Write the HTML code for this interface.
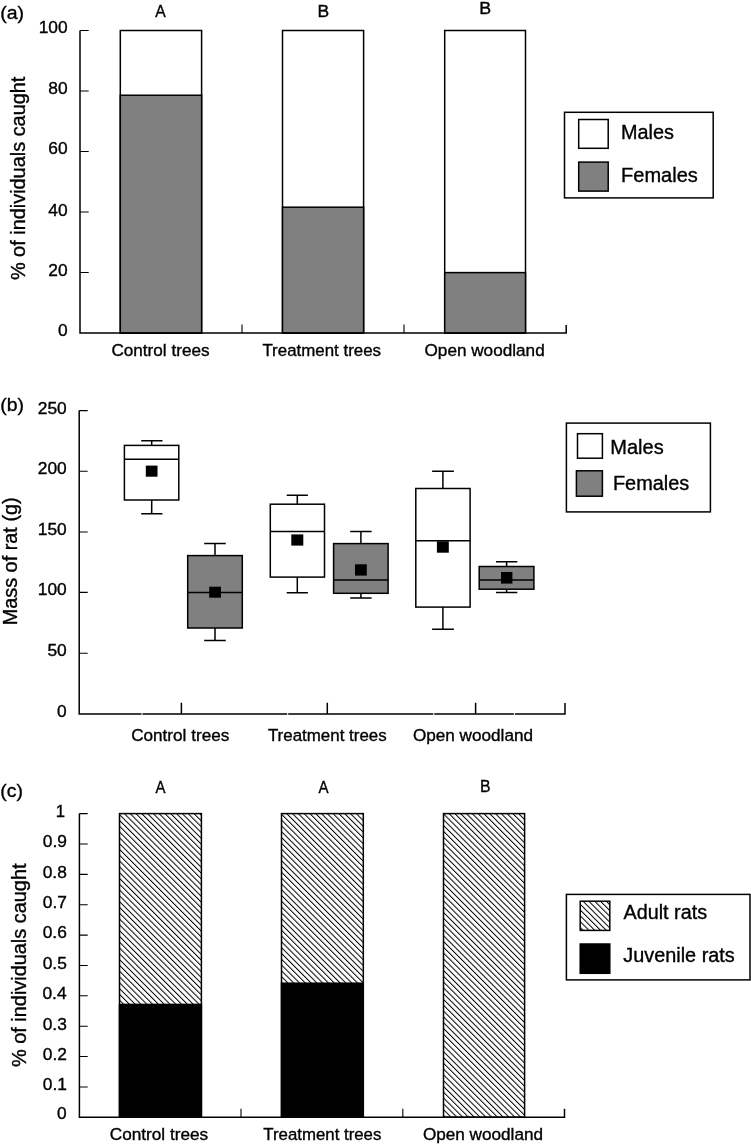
<!DOCTYPE html>
<html><head><meta charset="utf-8">
<style>
html,body{margin:0;padding:0;background:#fff;}
body{width:751px;height:1144px;overflow:hidden;}
svg{display:block;filter:grayscale(1);}
text{font-family:"Liberation Sans",sans-serif;fill:#000;stroke:#000;stroke-width:0.35px;}
</style></head><body>
<svg width="751" height="1144" viewBox="0 0 751 1144">
<defs>
<pattern id="hatch" patternUnits="userSpaceOnUse" width="4.1" height="4.1" patternTransform="rotate(-45)">
<rect width="4.1" height="4.1" fill="#fff"/>
<rect x="0" y="0" width="1.0" height="4.1" fill="#000"/>
</pattern>
</defs>
<rect width="751" height="1144" fill="#fff"/>
<rect x="120.30" y="30.50" width="81.30" height="302.50" fill="#fff" stroke="#000" stroke-width="1.5"/>
<rect x="120.30" y="95.25" width="81.30" height="237.75" fill="#808080" stroke="#000" stroke-width="1.5"/>
<rect x="282.50" y="30.50" width="81.10" height="302.50" fill="#fff" stroke="#000" stroke-width="1.5"/>
<rect x="282.50" y="207.20" width="81.10" height="125.80" fill="#808080" stroke="#000" stroke-width="1.5"/>
<rect x="444.70" y="30.50" width="80.80" height="302.50" fill="#fff" stroke="#000" stroke-width="1.5"/>
<rect x="444.70" y="272.60" width="80.80" height="60.40" fill="#808080" stroke="#000" stroke-width="1.5"/>
<path d="M80 30.5V333H566.2V325" fill="none" stroke="#000" stroke-width="1.5"/>
<path d="M80 30.5H88.7M80 91H88.7M80 151.5H88.7M80 212H88.7M80 272.5H88.7" stroke="#000" stroke-width="1.1"/>
<path d="M242 333V324.5M404 333V324.5" stroke="#000" stroke-width="1.1"/>
<rect x="564.50" y="112.30" width="148.70" height="85.60" fill="#fff" stroke="#000" stroke-width="1.5"/>
<rect x="578.70" y="119.50" width="29.50" height="28.80" fill="#fff" stroke="#000" stroke-width="1.5"/>
<rect x="578.70" y="162.10" width="29.50" height="29.00" fill="#808080" stroke="#000" stroke-width="1.5"/>
<path d="M79.2 410.6V714H565V703" fill="none" stroke="#000" stroke-width="1.5"/>
<path d="M79.2 410.6H87.7M79.2 471.2H87.7M79.2 532H87.7M79.2 592.4H87.7M79.2 653.2H87.7" stroke="#000" stroke-width="1.1"/>
<path d="M181.4 714V702.7M327.3 714V702.7M475.6 714V702.7" stroke="#000" stroke-width="1.5"/>
<path d="M142 712.6V715.4M287.7 712.6V715.4M433.8 712.6V715.4M514.4 712.6V715.4" stroke="#fff" stroke-width="1"/>
<path d="M151.7 440.8V445.4M141.2 440.8H162.5M151.7 500.0V513.7M141.2 513.7H162.5" stroke="#000" stroke-width="1.5" fill="none"/>
<rect x="124.40" y="445.40" width="54.40" height="54.60" fill="#fff" stroke="#000" stroke-width="1.5"/>
<path d="M124.4 459.2H178.8" stroke="#000" stroke-width="1.5"/>
<path d="M215.0 543.5V555.6M204.2 543.5H225.8M215.0 628.0V640.6M204.2 640.6H225.8" stroke="#000" stroke-width="1.5" fill="none"/>
<rect x="187.70" y="555.60" width="54.60" height="72.40" fill="#808080" stroke="#000" stroke-width="1.5"/>
<path d="M187.7 592.5H242.3" stroke="#000" stroke-width="1.5"/>
<path d="M297.3 495.3V504.2M286.7 495.3H307.9M297.3 577.1V592.8M286.7 592.8H307.9" stroke="#000" stroke-width="1.5" fill="none"/>
<rect x="270.30" y="504.20" width="54.20" height="72.90" fill="#fff" stroke="#000" stroke-width="1.5"/>
<path d="M270.3 531.5H324.5" stroke="#000" stroke-width="1.5"/>
<path d="M360.9 531.5V543.6M350.2 531.5H371.6M360.9 593.3V598.0M350.2 598.0H371.6" stroke="#000" stroke-width="1.5" fill="none"/>
<rect x="333.60" y="543.60" width="54.50" height="49.70" fill="#808080" stroke="#000" stroke-width="1.5"/>
<path d="M333.6 580.1H388.1" stroke="#000" stroke-width="1.5"/>
<path d="M442.9 471.2V488.5M432.1 471.2H453.9M442.9 607.1V629.3M432.1 629.3H453.9" stroke="#000" stroke-width="1.5" fill="none"/>
<rect x="415.80" y="488.50" width="54.30" height="118.60" fill="#fff" stroke="#000" stroke-width="1.5"/>
<path d="M415.8 540.7H470.1" stroke="#000" stroke-width="1.5"/>
<path d="M506.6 561.8V566.5M496.0 561.8H517.3M506.6 589.2V592.4M496.0 592.4H517.3" stroke="#000" stroke-width="1.5" fill="none"/>
<rect x="479.20" y="566.50" width="54.70" height="22.70" fill="#808080" stroke="#000" stroke-width="1.5"/>
<path d="M479.2 579.9H533.9" stroke="#000" stroke-width="1.5"/>
<rect x="145.80" y="465.60" width="11.70" height="11.10" fill="#000"/>
<rect x="209.20" y="586.70" width="11.80" height="11.00" fill="#000"/>
<rect x="291.30" y="534.40" width="12.00" height="11.20" fill="#000"/>
<rect x="355.00" y="564.30" width="11.80" height="11.30" fill="#000"/>
<rect x="436.90" y="541.30" width="11.90" height="11.40" fill="#000"/>
<rect x="501.00" y="572.00" width="11.40" height="11.60" fill="#000"/>
<rect x="566.40" y="423.10" width="144.00" height="88.80" fill="#fff" stroke="#000" stroke-width="1.5"/>
<rect x="577.50" y="433.70" width="24.90" height="24.50" fill="#fff" stroke="#000" stroke-width="1.5"/>
<rect x="576.40" y="470.80" width="26.00" height="25.40" fill="#808080" stroke="#000" stroke-width="1.5"/>
<rect x="119.50" y="813.60" width="81.90" height="303.60" fill="url(#hatch)" stroke="#000" stroke-width="1.5"/>
<rect x="119.50" y="1004.40" width="81.90" height="112.80" fill="#000" stroke="#000" stroke-width="1.5"/>
<rect x="281.50" y="813.60" width="81.80" height="303.60" fill="url(#hatch)" stroke="#000" stroke-width="1.5"/>
<rect x="281.50" y="983.20" width="81.80" height="134.00" fill="#000" stroke="#000" stroke-width="1.5"/>
<rect x="443.50" y="813.60" width="81.10" height="303.60" fill="url(#hatch)" stroke="#000" stroke-width="1.5"/>
<path d="M79.4 813.6V1117.2H564.5V1108.8" fill="none" stroke="#000" stroke-width="1.5"/>
<path d="M79.4 813.60H87.7M79.4 843.97H87.7M79.4 874.34H87.7M79.4 904.71H87.7M79.4 935.08H87.7M79.4 965.45H87.7M79.4 995.82H87.7M79.4 1026.19H87.7M79.4 1056.56H87.7M79.4 1086.93H87.7" stroke="#000" stroke-width="1.1"/>
<path d="M241 1117.2V1108.8M402.8 1117.2V1108.8" stroke="#000" stroke-width="1.1"/>
<rect x="566.40" y="894.40" width="183.60" height="85.50" fill="#fff" stroke="#000" stroke-width="1.5"/>
<rect x="580.20" y="901.20" width="29.60" height="29.20" fill="url(#hatch)" stroke="#000" stroke-width="1.5"/>
<rect x="580.20" y="944.00" width="29.60" height="29.30" fill="#000" stroke="#000" stroke-width="1.5"/>
<text transform="translate(0.29,19.30) scale(1.0366,1)" font-size="18.8">(a)</text>
<text transform="translate(38.70,32.90) scale(1.0400,1)" font-size="16.7">100</text>
<text transform="translate(48.36,94.30) scale(1.0400,1)" font-size="16.7">80</text>
<text transform="translate(48.36,154.30) scale(1.0400,1)" font-size="16.7">60</text>
<text transform="translate(48.36,215.80) scale(1.0400,1)" font-size="16.7">40</text>
<text transform="translate(48.36,276.00) scale(1.0400,1)" font-size="16.7">20</text>
<text transform="translate(58.02,335.80) scale(1.0400,1)" font-size="16.7">0</text>
<text transform="translate(25.40,280.11) rotate(-90) scale(1.0211,1)" font-size="19.5">% of individuals caught</text>
<text transform="translate(111.43,355.60) scale(1.0271,1)" font-size="16.7">Control trees</text>
<text transform="translate(262.42,355.60) scale(1.0120,1)" font-size="16.7">Treatment trees</text>
<text transform="translate(424.49,355.60) scale(1.0285,1)" font-size="16.7">Open woodland</text>
<text transform="translate(155.27,17.30) scale(0.9392,1)" font-size="16.7">A</text>
<text transform="translate(317.47,16.50) scale(1.0463,1)" font-size="16.7">B</text>
<text transform="translate(479.14,14.20) scale(1.0688,1)" font-size="16.7">B</text>
<text transform="translate(621.07,138.70) scale(1.0179,1)" font-size="19.5">Males</text>
<text transform="translate(621.06,181.60) scale(1.0267,1)" font-size="19.5">Females</text>
<text transform="translate(0.30,410.60) scale(1.0317,1)" font-size="18.8">(b)</text>
<text transform="translate(37.80,413.60) scale(1.0400,1)" font-size="16.7">250</text>
<text transform="translate(37.80,473.70) scale(1.0400,1)" font-size="16.7">200</text>
<text transform="translate(37.80,535.20) scale(1.0400,1)" font-size="16.7">150</text>
<text transform="translate(37.80,595.40) scale(1.0400,1)" font-size="16.7">100</text>
<text transform="translate(47.46,656.40) scale(1.0400,1)" font-size="16.7">50</text>
<text transform="translate(57.12,716.50) scale(1.0400,1)" font-size="16.7">0</text>
<text transform="translate(16.80,625.33) rotate(-90) scale(1.0188,1)" font-size="19.5">Mass of rat (g)</text>
<text transform="translate(131.13,741.40) scale(1.0282,1)" font-size="16.7">Control trees</text>
<text transform="translate(267.92,741.40) scale(1.0138,1)" font-size="16.7">Treatment trees</text>
<text transform="translate(412.89,741.40) scale(1.0276,1)" font-size="16.7">Open woodland</text>
<text transform="translate(610.26,454.10) scale(1.0279,1)" font-size="19.5">Males</text>
<text transform="translate(612.97,490.30) scale(1.0211,1)" font-size="19.5">Females</text>
<text transform="translate(0.30,796.50) scale(1.0312,1)" font-size="18.8">(c)</text>
<text x="55.83" y="817.00" font-size="16.7">1</text>
<text transform="translate(42.78,847.37) scale(1.0400,1)" font-size="16.7">0.9</text>
<text transform="translate(42.71,877.74) scale(1.0400,1)" font-size="16.7">0.8</text>
<text transform="translate(42.83,908.11) scale(1.0400,1)" font-size="16.7">0.7</text>
<text transform="translate(42.72,938.48) scale(1.0400,1)" font-size="16.7">0.6</text>
<text transform="translate(42.69,968.85) scale(1.0400,1)" font-size="16.7">0.5</text>
<text transform="translate(42.46,999.22) scale(1.0400,1)" font-size="16.7">0.4</text>
<text transform="translate(42.72,1029.59) scale(1.0400,1)" font-size="16.7">0.3</text>
<text transform="translate(42.83,1059.96) scale(1.0400,1)" font-size="16.7">0.2</text>
<text transform="translate(42.80,1090.33) scale(1.0400,1)" font-size="16.7">0.1</text>
<text transform="translate(57.02,1119.30) scale(1.0400,1)" font-size="16.7">0</text>
<text transform="translate(25.80,1067.01) rotate(-90) scale(1.0216,1)" font-size="19.5">% of individuals caught</text>
<text transform="translate(109.73,1139.50) scale(1.0292,1)" font-size="16.7">Control trees</text>
<text transform="translate(263.32,1139.50) scale(1.0078,1)" font-size="16.7">Treatment trees</text>
<text transform="translate(422.89,1139.50) scale(1.0276,1)" font-size="16.7">Open woodland</text>
<text transform="translate(155.47,792.50) scale(0.8940,1)" font-size="16.7">A</text>
<text transform="translate(318.47,792.50) scale(0.9031,1)" font-size="16.7">A</text>
<text transform="translate(480.01,791.50) scale(0.9451,1)" font-size="16.7">B</text>
<text transform="translate(623.56,919.30) scale(1.0144,1)" font-size="19.5">Adult rats</text>
<text transform="translate(623.29,962.00) scale(1.0188,1)" font-size="19.5">Juvenile rats</text>
</svg>
</body></html>
